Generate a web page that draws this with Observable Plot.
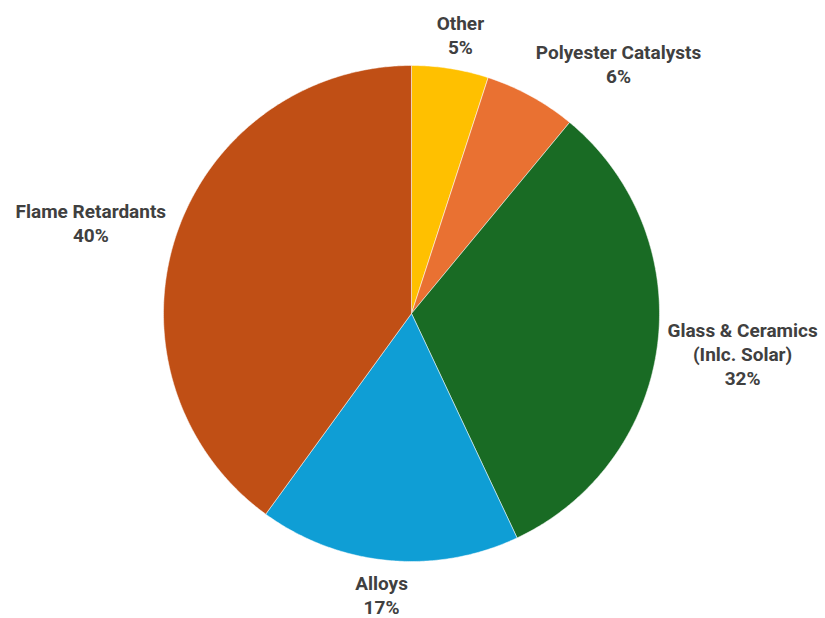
<!DOCTYPE html>
<html>
<head>
<meta charset="utf-8">
<script src="https://cdn.jsdelivr.net/npm/d3@7"></script>
<script src="https://cdn.jsdelivr.net/npm/@observablehq/plot@0.6"></script>
<style>
  html, body { margin: 0; padding: 0; background: #ffffff; }
  #chart svg { display: block; }
</style>
</head>
<body>
<div id="chart"></div>
<script>
// ---- data ----
const categories = ["Other", "Polyester Catalysts", "Glass & Ceramics\n(Inlc. Solar)", "Alloys", "Flame Retardants"];
const shares = [5, 6, 32, 17, 40];
const colors = ["#FFC000", "#E97132", "#196B24", "#0F9ED5", "#C04F15"];

// ---- layout ----
const W = 825, H = 618;
const cx = 411, cy = 313, R = 248, gap = 10;
const fontSize = 19, lineHeight = 1.27;
const fontFamily = "'Roboto', 'Liberation Sans', sans-serif";

const rows = categories.map((name, i) => ({name, share: shares[i]}));
const arcs = d3.pie().sort(null).value(d => d.share)(rows);

// slice polygons
const pts = [];
for (const a of arcs) {
  const name = a.data.name;
  pts.push({name, x: cx, y: cy});
  const n = Math.max(2, Math.ceil((a.endAngle - a.startAngle) / (Math.PI / 360)));
  for (let k = 0; k <= n; k++) {
    const t = a.startAngle + (a.endAngle - a.startAngle) * k / n;
    pts.push({name, x: cx + R * Math.sin(t), y: cy - R * Math.cos(t)});
  }
  pts.push({name, x: cx, y: cy});
}

// labels outside the pie
const ctx = document.createElement("canvas").getContext("2d");
ctx.font = `bold ${fontSize}px ${fontFamily}`;
const clamp = v => Math.max(-1, Math.min(1, v));
const labels = arcs.map(a => {
  const text = `${a.data.name}\n${a.data.share}%`;
  const lines = text.split("\n");
  const w = Math.max(...lines.map(l => ctx.measureText(l).width));
  const h = lines.length * fontSize * lineHeight;
  const m = (a.startAngle + a.endAngle) / 2;
  const dx = Math.sin(m), dy = -Math.cos(m);
  const px = cx + (R + gap) * dx, py = cy + (R + gap) * dy;
  return {text, x: px + clamp(dx * 2.3) * w / 2, y: py + clamp(dy * 1.6) * h / 2};
});

const chart = Plot.plot({
  width: W,
  height: H,
  margin: 0,
  x: {domain: [0, W], range: [0, W], axis: null},
  y: {domain: [0, H], range: [0, H], axis: null},
  color: {domain: categories, range: colors},
  style: {background: "#ffffff"},
  marks: [
    Plot.line(pts, {x: "x", y: "y", z: "name", fill: "name", stroke: "#ffffff", strokeWidth: 1, strokeOpacity: 0.5}),
    Plot.text(labels, {
      x: "x", y: "y", text: "text",
      fontSize, fontWeight: "bold", fontFamily,
      fill: "#404040", lineHeight, lineAnchor: "middle", textAnchor: "middle"
    })
  ]
});
document.getElementById("chart").appendChild(chart);
</script>
</body>
</html>
